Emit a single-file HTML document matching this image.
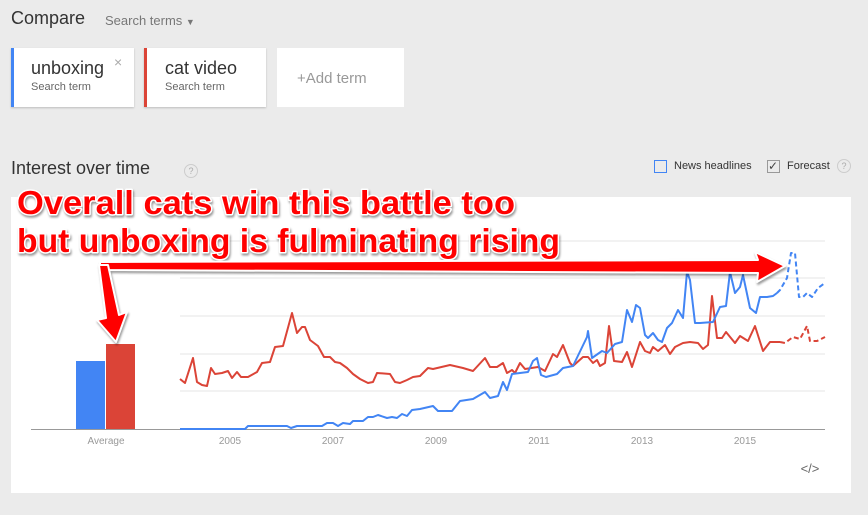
<!DOCTYPE html>
<html><head><meta charset="utf-8"><style>
body{margin:0;width:868px;height:515px;background:#ebebeb;font-family:"Liberation Sans",Arial,sans-serif;overflow:hidden;position:relative}
.a{position:absolute;white-space:nowrap}
.card{position:absolute;background:#fff;top:48px;height:59px;box-shadow:0 1px 2px rgba(0,0,0,.2)}
.t{position:absolute;left:18px;top:10px;font-size:18px;color:#333}
.s{position:absolute;left:18px;top:33px;font-size:11px;color:#666}
</style></head><body>
<div class="a" style="left:11px;top:8px;font-size:18px;color:#333">Compare</div>
<div class="a" style="left:105px;top:13px;font-size:13px;color:#777">Search terms <span style="font-size:9px">▼</span></div>
<div class="card" style="left:11px;width:123px;border-left:3px solid #4285f4;box-sizing:border-box"><div class="t" style="left:17px">unboxing</div><div class="s" style="left:17px">Search term</div><div class="a" style="left:100px;top:6px;color:#aaa;font-size:14px">×</div></div>
<div class="card" style="left:144px;width:122px;border-left:3px solid #db4437;box-sizing:border-box"><div class="t">cat video</div><div class="s">Search term</div></div>
<div class="card" style="left:277px;width:127px;box-shadow:none"><div class="a" style="left:20px;top:22px;font-size:15px;color:#999">+Add term</div></div>
<div class="a" style="left:11px;top:158px;font-size:18px;color:#333">Interest over time</div>
<div class="a" style="left:184px;top:164px;width:12px;height:12px;border:1px solid #ccc;border-radius:50%;font-size:9px;color:#aaa;text-align:center;line-height:12px">?</div>
<div class="a" style="left:654px;top:160px;width:11px;height:11px;border:1px solid #4285f4"></div>
<div class="a" style="left:674px;top:160px;font-size:11px;color:#333">News headlines</div>
<div class="a" style="left:767px;top:160px;width:11px;height:11px;border:1px solid #999;font-size:12px;line-height:10px;color:#444">✓</div>
<div class="a" style="left:787px;top:160px;font-size:11px;color:#333">Forecast</div>
<div class="a" style="left:837px;top:159px;width:12px;height:12px;border:1px solid #ccc;border-radius:50%;font-size:9px;color:#aaa;text-align:center;line-height:12px">?</div>
<div class="a" style="left:11px;top:197px;width:840px;height:296px;background:#fff"></div>
<svg class="a" style="left:0;top:0" width="868" height="515">
<g stroke="#e6e6e6" stroke-width="1">
<line x1="180" y1="241" x2="825" y2="241"/><line x1="180" y1="278" x2="825" y2="278"/><line x1="180" y1="316" x2="825" y2="316"/><line x1="180" y1="354" x2="825" y2="354"/><line x1="180" y1="391" x2="825" y2="391"/></g>
<line x1="31" y1="429.5" x2="825" y2="429.5" stroke="#999"/>
<rect x="76" y="361" width="29" height="68" fill="#4285f4"/>
<rect x="106" y="344" width="29" height="85" fill="#db4437"/>
<g font-size="10" fill="#999" text-anchor="middle"><text x="106" y="444">Average</text><text x="230" y="444">2005</text><text x="333" y="444">2007</text><text x="436" y="444">2009</text><text x="539" y="444">2011</text><text x="642" y="444">2013</text><text x="745" y="444">2015</text></g>
<text x="810" y="473" font-size="13" fill="#666" text-anchor="middle">&lt;/&gt;</text>
<g fill="none" stroke-width="2" stroke-linejoin="round">
<polyline stroke="#db4437" points="180,379 185,383 193,358 197,382 202,385 207,386 211,368 215,374 222,373 228,371 232,378 237,372 241,377 248,377 257,372 262,363 270,362 275,347 283,346 292,313 297,333 302,327 305,327 310,340 318,346 324,357 330,357 335,362 340,363 347,368 353,374 360,379 368,383 373,382 377,373 390,374 395,382 400,383 407,380 413,377 420,376 428,368 433,369 450,365 463,368 473,371 485,358 490,367 497,367 503,363 507,373 512,370 515,373 520,363 525,369 538,367 545,371 553,354 557,357 563,345 570,363 573,366 583,357 588,357 593,363 597,360 600,366 605,363 609,326 614,361 622,362 627,352 632,367 640,342 645,351 650,353 653,347 658,351 665,345 670,354 675,347 683,343 690,342 698,343 703,349 708,345 712,296 717,338 722,338 726,332 735,343 740,336 748,341 755,326 763,351 770,342 780,342"/>
<polyline stroke="#db4437" stroke-dasharray="5,3" points="780,342 785,343 793,337 800,339 807,326 810,341 817,341 825,337"/>
<polyline stroke="#4285f4" points="180,429 245,429 248,426 287,426 291,428 297,426 322,426 327,423 333,423 338,426 343,423 350,424 353,421 363,421 368,417 373,417 378,415 387,418 392,417 397,418 402,414 407,416 412,410 420,409 433,406 438,411 452,411 460,401 473,399 485,392 490,398 498,396 503,382 507,390 512,374 520,373 528,372 533,361 537,358 541,375 546,377 557,374 563,368 573,366 587,337 588,331 592,358 602,351 607,353 615,344 622,342 627,310 632,322 636,305 640,308 645,335 648,338 653,333 658,340 662,342 667,328 672,323 678,310 683,318 687,272 690,280 695,323 700,323 713,322 720,307 726,306 730,272 735,293 740,287 743,275 750,308 756,313 760,297 767,297 773,296 777,293"/>
<polyline stroke="#4285f4" stroke-dasharray="5,3" points="777,293 780,290 787,278 791,253 795,253 799,297 803,297 807,293 812,297 818,288 825,283"/>
</g>
<g style="filter:drop-shadow(1px 2px 1px rgba(0,0,0,.4))">
<polygon points="100,262 758,260 755,252 785,266 757,282 758,273 100,270" fill="#f00" stroke="#fff" stroke-width="2" stroke-linejoin="round"/>
<polygon points="99,265 108,265 119,315 127,312 116,342 97,320 106,318" fill="#f00" stroke="#fff" stroke-width="2" stroke-linejoin="round"/>
<g font-family="Liberation Sans, sans-serif" font-weight="bold" font-size="33" fill="#f00" stroke="#fff" stroke-width="3" paint-order="stroke" stroke-linejoin="round">
<text x="17" y="214" textLength="498" lengthAdjust="spacingAndGlyphs">Overall cats win this battle too</text>
<text x="17" y="252" textLength="543" lengthAdjust="spacingAndGlyphs">but unboxing is fulminating rising</text>
</g></g>
</svg>
</body></html>
